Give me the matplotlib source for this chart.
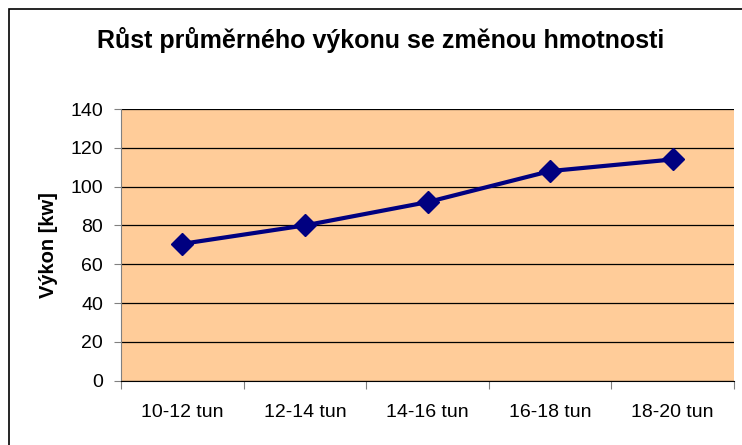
import numpy as np
import matplotlib.pyplot as plt
from matplotlib.patches import Rectangle

plt.rcParams['font.family'] = ['Liberation Sans', 'DejaVu Sans']

# --- data ---
kategorie = ['10-12 tun', '12-14 tun', '14-16 tun', '16-18 tun', '18-20 tun']
vykon = [70.5, 80, 92, 108, 114]

fig = plt.figure(figsize=(7.42, 4.45), dpi=100)
fig.patch.set_facecolor('white')

# outer chart border (Excel style)
fig.patches.append(Rectangle((9 / 742, -0.05), 1.0, 1 - 9 / 445 + 0.05,
                             transform=fig.transFigure, fill=False,
                             edgecolor='black', linewidth=1.2))

ax = fig.add_axes([121 / 742, 1 - 380.6 / 445, (734 - 121) / 742, (380.6 - 109) / 445])
ax.set_facecolor('#FFCC99')

x = np.arange(len(kategorie))
ax.plot(x, vykon, color='#000080', linewidth=3, marker='D', markersize=11,
        markerfacecolor='#000080', markeredgecolor='#000080', zorder=3)

ax.set_xlim(-0.5, len(kategorie) - 0.5)
ax.set_ylim(0, 140)
ax.set_yticks(np.arange(0, 141, 20))
ax.yaxis.grid(True, color='black', linewidth=0.9)
ax.set_axisbelow(True)

ax.set_xticks(np.arange(-0.5, len(kategorie), 1.0))
ax.set_xticklabels([])
ax.set_xticks(x, minor=True)
ax.set_xticklabels(kategorie, minor=True)
ax.tick_params(axis='x', which='major', length=6, color='#808080', direction='out')
ax.tick_params(axis='x', which='minor', length=0, pad=17, labelsize=14)
ax.tick_params(axis='y', length=5, color='#808080', labelsize=14, pad=8)

for s in ['top', 'right']:
    ax.spines[s].set_visible(False)
ax.spines['left'].set_color('#808080')
ax.spines['bottom'].set_color('black')

ax.set_ylabel('Výkon [kw]', fontsize=14.5, fontweight='bold', va='center')
ax.yaxis.set_label_coords((48 - 121) / 613, 0.5)
fig.text(381 / 742, 1 - 40 / 445, 'Růst průměrného výkonu se změnou hmotnosti',
         ha='center', va='center', fontsize=18, fontweight='bold')

fig.savefig('out.png', dpi=100)
